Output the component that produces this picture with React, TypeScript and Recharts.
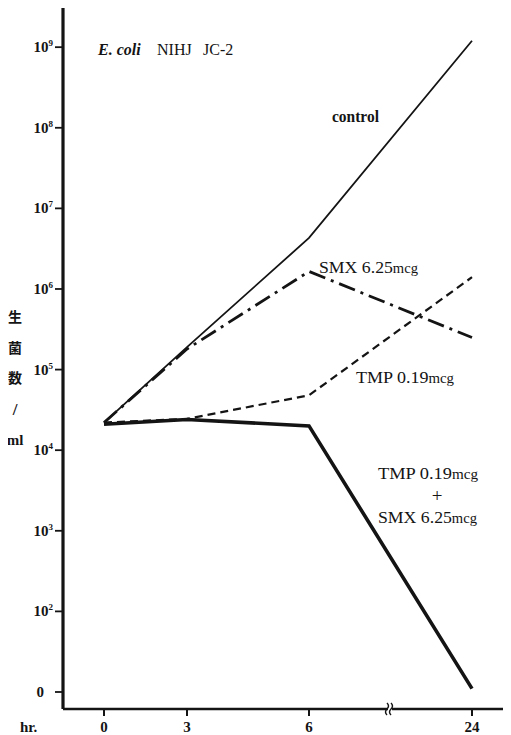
import React from "react";
import { LineChart, Line, XAxis, YAxis, ReferenceDot } from "recharts";

// ---- data ----
const HOURS = [0, 3, 6, 24];
const CONTROL = [2.2e4, 1.9e5, 4.3e6, 1.2e9];
const SMX = [2.2e4, 1.8e5, 1.65e6, 2.5e5];
const TMP = [2.2e4, 2.45e4, 4.8e4, 1.4e6];
const TMP_SMX = [2.1e4, 2.4e4, 2.0e4, 11];
const Y_TICKS = [1e1, 1e2, 1e3, 1e4, 1e5, 1e6, 1e7, 1e8, 1e9];

// ---- layout (uneven, broken time axis as drawn in the original) ----
const HOUR_AXIS_POS = [41, 124, 246, 409];
const BREAK_POS = 327;
const X_DOMAIN: [number, number] = [0, 448];
const Y_DOMAIN: [number, number] = [Math.pow(10, 0.789), Math.pow(10, 9.486)];

const table = HOURS.map((h, i) => ({
  hr: h,
  x: HOUR_AXIS_POS[i],
  control: CONTROL[i],
  smx: SMX[i],
  tmp: TMP[i],
  combo: TMP_SMX[i],
}));

const SERIF = "'Liberation Serif', 'DejaVu Serif', serif";
const INK = "#141414";

const YTick = (props: any) => {
  const { x, y, payload } = props;
  const v = payload.value as number;
  const exp = Math.round(Math.log10(v));
  if (exp === 1) {
    return (
      <text x={x - 9} y={y} dy={5} textAnchor="end" fontFamily={SERIF} fontSize={15} fontWeight="bold" fill={INK}>
        0
      </text>
    );
  }
  return (
    <text x={x} y={y} dy={5} textAnchor="end" fontFamily={SERIF} fontSize={15} fontWeight="bold" fill={INK}>
      <tspan>10</tspan>
      <tspan dy={-6} fontSize={9}>
        {exp}
      </tspan>
    </text>
  );
};

const XTick = (props: any) => {
  const { x, y, payload } = props;
  const idx = HOUR_AXIS_POS.indexOf(payload.value);
  return (
    <text x={x} y={y} dy={14} textAnchor="middle" fontFamily={SERIF} fontSize={15} fontWeight="bold" fill={INK}>
      {idx >= 0 ? String(HOURS[idx]) : ""}
    </text>
  );
};

const BreakMark = (props: any) => {
  const { cx, cy } = props;
  if (cx == null || cy == null) return null;
  return (
    <g>
      <rect x={cx - 2} y={cy - 3} width={4} height={6} fill="#fff" />
      <path d={`M${cx - 3},${cy - 6} q3,3 0,6 q-3,3 0,6`} stroke={INK} strokeWidth={1.4} fill="none" />
      <path d={`M${cx + 1},${cy - 6} q3,3 0,6 q-3,3 0,6`} stroke={INK} strokeWidth={1.4} fill="none" />
    </g>
  );
};

const Mcg = ({ x, y, name, num, len }: { x: number; y: number; name: string; num: string; len: number }) => (
  <text x={x} y={y} fontFamily={SERIF} fontSize={17} fill={INK} textLength={len} lengthAdjust="spacingAndGlyphs">
    {name} {num}
    <tspan fontSize={14}>mcg</tspan>
  </text>
);

export default function App() {
  return (
    <div style={{ position: "relative", width: 503, height: 727 }}>
      <LineChart width={503} height={727} data={table} margin={{ top: 0, right: 0, bottom: 0, left: 0 }}>
        <XAxis
          type="number"
          dataKey="x"
          domain={X_DOMAIN}
          ticks={HOUR_AXIS_POS}
          allowDataOverflow
          height={26}
          axisLine={{ stroke: INK, strokeWidth: 2.5 }}
          tickLine={{ stroke: INK, strokeWidth: 2 }}
          tickSize={7}
          tickMargin={2}
          tick={<XTick />}
        />
        <YAxis
          scale="log"
          domain={Y_DOMAIN}
          ticks={Y_TICKS}
          allowDataOverflow
          width={55}
          axisLine={{ stroke: INK, strokeWidth: 3.2 }}
          tickLine={{ stroke: INK, strokeWidth: 1.8 }}
          tickSize={8}
          tickMargin={2}
          tick={<YTick />}
        />
        <Line type="linear" dataKey="control" stroke={INK} strokeWidth={1.8} dot={false} isAnimationActive={false} />
        <Line
          type="linear"
          dataKey="smx"
          stroke={INK}
          strokeWidth={2.8}
          strokeDasharray="17 6 3 6"
          dot={false}
          isAnimationActive={false}
        />
        <Line
          type="linear"
          dataKey="tmp"
          stroke={INK}
          strokeWidth={2.2}
          strokeDasharray="8 5"
          dot={false}
          isAnimationActive={false}
        />
        <Line type="linear" dataKey="combo" stroke={INK} strokeWidth={3.6} dot={false} isAnimationActive={false} />
        <ReferenceDot x={BREAK_POS} y={Y_DOMAIN[0]} ifOverflow="visible" shape={<BreakMark />} />
      </LineChart>
      <svg
        width={503}
        height={727}
        style={{ position: "absolute", left: 0, top: 0, pointerEvents: "none" }}
      >
        <text x={90} y={47} fontFamily={SERIF} fontSize={16} fontStyle="italic" fontWeight="bold" fill={INK}>
          E. coli
        </text>
        <text x={149} y={47} fontFamily={SERIF} fontSize={16} fill={INK}>
          NIHJ
        </text>
        <text x={195} y={47} fontFamily={SERIF} fontSize={16} fill={INK}>
          JC-2
        </text>
        <text x={324} y={114} fontFamily={SERIF} fontSize={16} fontWeight="bold" fill={INK} textLength={47} lengthAdjust="spacingAndGlyphs">
          control
        </text>
        <Mcg x={311} y={265} name="SMX" num="6.25" len={99} />
        <Mcg x={348} y={375} name="TMP" num="0.19" len={98} />
        <Mcg x={370} y={471} name="TMP" num="0.19" len={100} />
        <text x={429} y={494} textAnchor="middle" fontFamily={SERIF} fontSize={19} fill={INK}>
          +
        </text>
        <Mcg x={370} y={515} name="SMX" num="6.25" len={99} />
        <text x={12} y={724} fontFamily={SERIF} fontSize={15} fontWeight="bold" fill={INK}>
          hr.
        </text>
        {["生", "菌", "数", "/", "ml"].map((c, i) => (
          <text
            key={c}
            x={7}
            y={[309, 340, 370, 402, 432][i] + 5}
            textAnchor="middle"
            fontFamily={c === "ml" || c === "/" ? SERIF : "'Noto Sans CJK JP', sans-serif"}
            fontSize={c === "ml" ? 15 : c === "/" ? 17 : 14}
            fontWeight="bold"
            fill={INK}
          >
            {c}
          </text>
        ))}
      </svg>
    </div>
  );
}
